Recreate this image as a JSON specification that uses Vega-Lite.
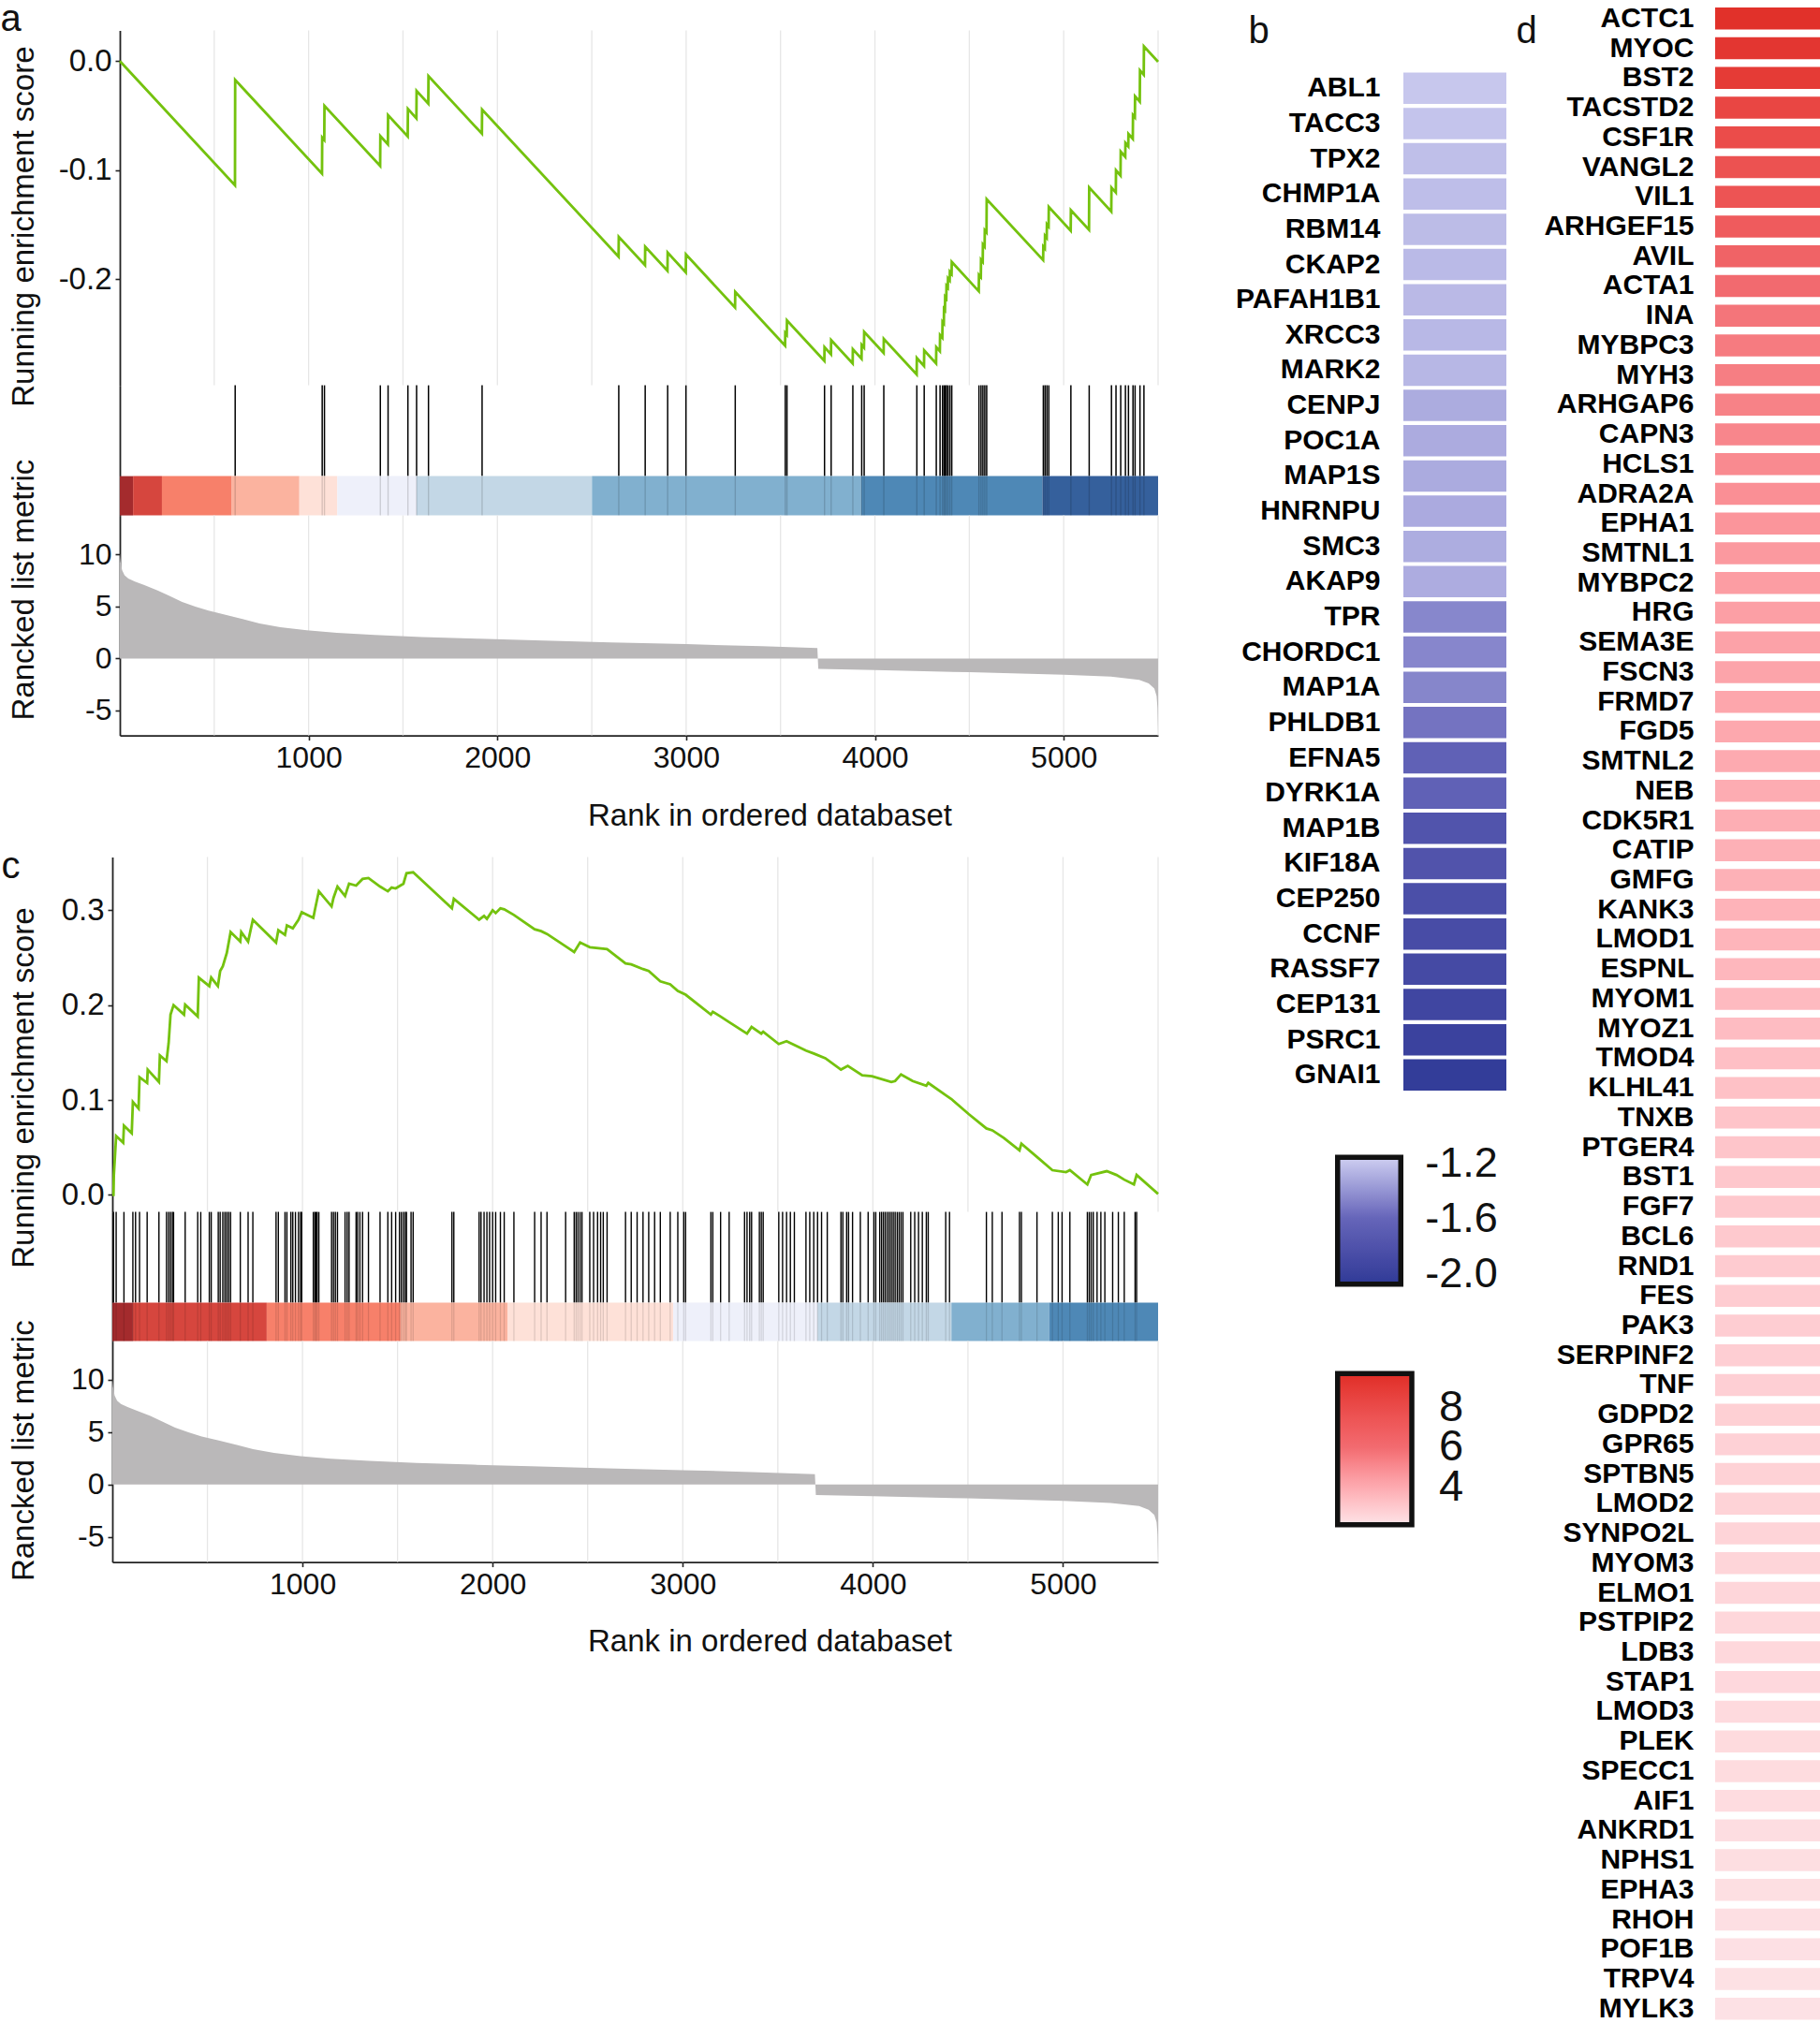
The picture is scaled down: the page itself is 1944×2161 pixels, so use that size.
{
"$schema": "https://vega.github.io/schema/vega-lite/v6.json",
"padding": 0,
"background": "white",
"config": {
  "view": {"stroke": null},
  "font": "Liberation Sans",
  "axis": {"grid": false, "labelFont": "Liberation Sans", "titleFont": "Liberation Sans", "labelColor": "#111", "titleColor": "#111", "labelFontSize": 32, "titleFontSize": 33, "titleFontWeight": "normal", "domainColor": "#222", "domainWidth": 1.8, "tickColor": "#222", "tickWidth": 1.6, "tickSize": 5, "labelPadding": 4}
},
"datasets": {
  "grid": [{"rank":500},{"rank":1000},{"rank":1500},{"rank":2000},{"rank":2500},{"rank":3000},{"rank":3500},{"rank":4000},{"rank":4500},{"rank":5000},{"rank":5500}],
  "esA": [{"rank":0,"es":0},{"rank":610,"es":-0.1137},{"rank":611,"es":-0.0172},{"rank":1071,"es":-0.103},{"rank":1072,"es":-0.07},{"rank":1083,"es":-0.0722},{"rank":1084,"es":-0.041},{"rank":1379,"es":-0.0961},{"rank":1380,"es":-0.0687},{"rank":1420,"es":-0.0763},{"rank":1421,"es":-0.0495},{"rank":1525,"es":-0.069},{"rank":1526,"es":-0.0438},{"rank":1571,"es":-0.0524},{"rank":1572,"es":-0.0272},{"rank":1634,"es":-0.0389},{"rank":1635,"es":-0.0137},{"rank":1918,"es":-0.0665},{"rank":1919,"es":-0.0444},{"rank":2642,"es":-0.1791},{"rank":2643,"es":-0.161},{"rank":2782,"es":-0.187},{"rank":2783,"es":-0.17},{"rank":2901,"es":-0.1921},{"rank":2902,"es":-0.1755},{"rank":2998,"es":-0.1935},{"rank":2999,"es":-0.1772},{"rank":3259,"es":-0.2257},{"rank":3260,"es":-0.2114},{"rank":3524,"es":-0.2607},{"rank":3525,"es":-0.249},{"rank":3533,"es":-0.2507},{"rank":3534,"es":-0.2375},{"rank":3732,"es":-0.2745},{"rank":3733,"es":-0.262},{"rank":3767,"es":-0.2685},{"rank":3768,"es":-0.2555},{"rank":3882,"es":-0.2769},{"rank":3883,"es":-0.264},{"rank":3929,"es":-0.2727},{"rank":3930,"es":-0.26},{"rank":3942,"es":-0.2624},{"rank":3943,"es":-0.248},{"rank":4046,"es":-0.2673},{"rank":4047,"es":-0.2545},{"rank":4221,"es":-0.2871},{"rank":4222,"es":-0.272},{"rank":4260,"es":-0.2793},{"rank":4261,"es":-0.265},{"rank":4324,"es":-0.2769},{"rank":4325,"es":-0.262},{"rank":4344,"es":-0.2657},{"rank":4345,"es":-0.251},{"rank":4357,"es":-0.2534},{"rank":4358,"es":-0.239},{"rank":4365,"es":-0.2405},{"rank":4366,"es":-0.227},{"rank":4371,"es":-0.2281},{"rank":4372,"es":-0.216},{"rank":4378,"es":-0.2173},{"rank":4379,"es":-0.206},{"rank":4386,"es":-0.2075},{"rank":4387,"es":-0.199},{"rank":4396,"es":-0.2009},{"rank":4397,"es":-0.193},{"rank":4406,"es":-0.1949},{"rank":4407,"es":-0.184},{"rank":4550,"es":-0.2108},{"rank":4551,"es":-0.196},{"rank":4561,"es":-0.198},{"rank":4562,"es":-0.182},{"rank":4571,"es":-0.1839},{"rank":4572,"es":-0.168},{"rank":4581,"es":-0.1699},{"rank":4582,"es":-0.155},{"rank":4591,"es":-0.1569},{"rank":4592,"es":-0.1265},{"rank":4891,"es":-0.1823},{"rank":4892,"es":-0.17},{"rank":4900,"es":-0.1717},{"rank":4901,"es":-0.16},{"rank":4910,"es":-0.1619},{"rank":4911,"es":-0.1496},{"rank":4920,"es":-0.1515},{"rank":4921,"es":-0.1336},{"rank":5037,"es":-0.1554},{"rank":5038,"es":-0.1365},{"rank":5134,"es":-0.1545},{"rank":5135,"es":-0.1159},{"rank":5252,"es":-0.1378},{"rank":5253,"es":-0.1159},{"rank":5276,"es":-0.1204},{"rank":5277,"es":-0.1001},{"rank":5301,"es":-0.1048},{"rank":5302,"es":-0.083},{"rank":5326,"es":-0.0877},{"rank":5327,"es":-0.075},{"rank":5342,"es":-0.078},{"rank":5343,"es":-0.0667},{"rank":5366,"es":-0.0712},{"rank":5367,"es":-0.0495},{"rank":5377,"es":-0.0515},{"rank":5378,"es":-0.0323},{"rank":5403,"es":-0.0371},{"rank":5404,"es":-0.0086},{"rank":5424,"es":-0.0125},{"rank":5425,"es":0.0134},{"rank":5500,"es":-0.0006}],
  "hitsA": [{"rank":611},{"rank":1072},{"rank":1084},{"rank":1380},{"rank":1421},{"rank":1526},{"rank":1572},{"rank":1635},{"rank":1919},{"rank":2643},{"rank":2783},{"rank":2902},{"rank":2999},{"rank":3260},{"rank":3525},{"rank":3534},{"rank":3733},{"rank":3768},{"rank":3883},{"rank":3930},{"rank":3943},{"rank":4047},{"rank":4222},{"rank":4261},{"rank":4325},{"rank":4345},{"rank":4358},{"rank":4366},{"rank":4372},{"rank":4379},{"rank":4387},{"rank":4397},{"rank":4407},{"rank":4551},{"rank":4562},{"rank":4572},{"rank":4582},{"rank":4592},{"rank":4892},{"rank":4901},{"rank":4911},{"rank":4921},{"rank":5038},{"rank":5135},{"rank":5253},{"rank":5277},{"rank":5302},{"rank":5327},{"rank":5343},{"rank":5367},{"rank":5378},{"rank":5404},{"rank":5425}],
  "barA": [{"start":0,"end":70,"level":1},{"start":70,"end":223,"level":2},{"start":223,"end":593,"level":3},{"start":593,"end":951,"level":4},{"start":951,"end":1152,"level":5},{"start":1152,"end":1572,"level":6},{"start":1572,"end":2501,"level":7},{"start":2501,"end":3926,"level":8},{"start":3926,"end":4887,"level":9},{"start":4887,"end":5500,"level":10}],
  "metric": [{"rank":0,"m":10.1},{"rank":4,"m":9.3},{"rank":12,"m":8.5},{"rank":25,"m":8.0},{"rank":45,"m":7.7},{"rank":80,"m":7.4},{"rank":130,"m":7.05},{"rank":200,"m":6.55},{"rank":260,"m":6.05},{"rank":330,"m":5.45},{"rank":400,"m":5.0},{"rank":470,"m":4.6},{"rank":560,"m":4.2},{"rank":650,"m":3.8},{"rank":740,"m":3.38},{"rank":850,"m":3.02},{"rank":990,"m":2.72},{"rank":1150,"m":2.47},{"rank":1350,"m":2.26},{"rank":1600,"m":2.06},{"rank":1900,"m":1.9},{"rank":2200,"m":1.75},{"rank":2600,"m":1.55},{"rank":3000,"m":1.38},{"rank":3400,"m":1.18},{"rank":3695,"m":1.0},{"rank":3700,"m":-1.0},{"rank":4000,"m":-1.12},{"rank":4500,"m":-1.32},{"rank":5000,"m":-1.55},{"rank":5250,"m":-1.75},{"rank":5400,"m":-2.05},{"rank":5450,"m":-2.4},{"rank":5480,"m":-2.9},{"rank":5492,"m":-3.6},{"rank":5497,"m":-4.8},{"rank":5500,"m":-7.0}],
  "esC": [{"rank":0,"es":0},{"rank":6,"es":0.0},{"rank":8,"es":0.021},{"rank":20,"es":0.062},{"rank":57,"es":0.055},{"rank":61,"es":0.073},{"rank":102,"es":0.065},{"rank":108,"es":0.098},{"rank":138,"es":0.091},{"rank":143,"es":0.124},{"rank":183,"es":0.118},{"rank":186,"es":0.132},{"rank":245,"es":0.119},{"rank":250,"es":0.147},{"rank":285,"es":0.141},{"rank":296,"es":0.16},{"rank":306,"es":0.19},{"rank":322,"es":0.2},{"rank":377,"es":0.19},{"rank":383,"es":0.2005},{"rank":449,"es":0.188},{"rank":455,"es":0.229},{"rank":510,"es":0.22},{"rank":520,"es":0.229},{"rank":555,"es":0.22},{"rank":567,"es":0.236},{"rank":581,"es":0.241},{"rank":602,"es":0.255},{"rank":622,"es":0.277},{"rank":673,"es":0.267},{"rank":678,"es":0.277},{"rank":714,"es":0.267},{"rank":739,"es":0.29},{"rank":861,"es":0.266},{"rank":873,"es":0.279},{"rank":908,"es":0.274},{"rank":918,"es":0.284},{"rank":949,"es":0.281},{"rank":979,"es":0.29},{"rank":996,"es":0.298},{"rank":1057,"es":0.292},{"rank":1065,"es":0.3},{"rank":1086,"es":0.32},{"rank":1153,"es":0.304},{"rank":1163,"es":0.313},{"rank":1184,"es":0.325},{"rank":1224,"es":0.315},{"rank":1235,"es":0.322},{"rank":1245,"es":0.328},{"rank":1282,"es":0.326},{"rank":1316,"es":0.333},{"rank":1347,"es":0.334},{"rank":1408,"es":0.325},{"rank":1449,"es":0.32},{"rank":1469,"es":0.324},{"rank":1490,"es":0.323},{"rank":1531,"es":0.328},{"rank":1547,"es":0.339},{"rank":1582,"es":0.34},{"rank":1786,"es":0.302},{"rank":1796,"es":0.312},{"rank":1929,"es":0.29},{"rank":1955,"es":0.294},{"rank":1970,"es":0.291},{"rank":2000,"es":0.3},{"rank":2016,"es":0.297},{"rank":2041,"es":0.302},{"rank":2061,"es":0.301},{"rank":2112,"es":0.295},{"rank":2221,"es":0.28},{"rank":2255,"es":0.278},{"rank":2286,"es":0.275},{"rank":2384,"es":0.262},{"rank":2429,"es":0.256},{"rank":2460,"es":0.266},{"rank":2511,"es":0.261},{"rank":2602,"es":0.259},{"rank":2699,"es":0.244},{"rank":2729,"es":0.243},{"rank":2791,"es":0.238},{"rank":2821,"es":0.236},{"rank":2882,"es":0.225},{"rank":2934,"es":0.222},{"rank":2974,"es":0.215},{"rank":3015,"es":0.211},{"rank":3148,"es":0.19},{"rank":3158,"es":0.193},{"rank":3199,"es":0.188},{"rank":3244,"es":0.182},{"rank":3338,"es":0.17},{"rank":3362,"es":0.177},{"rank":3413,"es":0.17},{"rank":3423,"es":0.172},{"rank":3505,"es":0.159},{"rank":3546,"es":0.162},{"rank":3587,"es":0.158},{"rank":3648,"es":0.152},{"rank":3689,"es":0.149},{"rank":3750,"es":0.144},{"rank":3832,"es":0.132},{"rank":3868,"es":0.136},{"rank":3944,"es":0.126},{"rank":3995,"es":0.125},{"rank":4097,"es":0.119},{"rank":4117,"es":0.12},{"rank":4148,"es":0.127},{"rank":4209,"es":0.12},{"rank":4281,"es":0.115},{"rank":4291,"es":0.118},{"rank":4383,"es":0.105},{"rank":4413,"es":0.101},{"rank":4505,"es":0.085},{"rank":4597,"es":0.07},{"rank":4628,"es":0.068},{"rank":4689,"es":0.06},{"rank":4771,"es":0.047},{"rank":4781,"es":0.054},{"rank":4863,"es":0.04},{"rank":4944,"es":0.026},{"rank":5016,"es":0.024},{"rank":5036,"es":0.026},{"rank":5128,"es":0.011},{"rank":5148,"es":0.021},{"rank":5230,"es":0.025},{"rank":5281,"es":0.021},{"rank":5322,"es":0.016},{"rank":5373,"es":0.011},{"rank":5387,"es":0.021},{"rank":5500,"es":0.001}],
  "hitsC": [{"rank":6},{"rank":20},{"rank":61},{"rank":108},{"rank":122},{"rank":143},{"rank":183},{"rank":245},{"rank":285},{"rank":296},{"rank":306},{"rank":316},{"rank":322},{"rank":383},{"rank":449},{"rank":465},{"rank":510},{"rank":520},{"rank":557},{"rank":567},{"rank":581},{"rank":592},{"rank":602},{"rank":612},{"rank":622},{"rank":673},{"rank":714},{"rank":739},{"rank":861},{"rank":873},{"rank":908},{"rank":918},{"rank":939},{"rank":949},{"rank":963},{"rank":979},{"rank":990},{"rank":996},{"rank":1057},{"rank":1065},{"rank":1071},{"rank":1077},{"rank":1086},{"rank":1153},{"rank":1163},{"rank":1173},{"rank":1184},{"rank":1224},{"rank":1235},{"rank":1245},{"rank":1282},{"rank":1290},{"rank":1302},{"rank":1316},{"rank":1347},{"rank":1408},{"rank":1449},{"rank":1469},{"rank":1490},{"rank":1510},{"rank":1520},{"rank":1531},{"rank":1541},{"rank":1547},{"rank":1571},{"rank":1582},{"rank":1786},{"rank":1796},{"rank":1929},{"rank":1939},{"rank":1955},{"rank":1970},{"rank":1984},{"rank":2000},{"rank":2016},{"rank":2041},{"rank":2061},{"rank":2112},{"rank":2221},{"rank":2255},{"rank":2286},{"rank":2384},{"rank":2429},{"rank":2439},{"rank":2449},{"rank":2460},{"rank":2470},{"rank":2511},{"rank":2531},{"rank":2552},{"rank":2568},{"rank":2582},{"rank":2602},{"rank":2699},{"rank":2729},{"rank":2760},{"rank":2791},{"rank":2821},{"rank":2852},{"rank":2882},{"rank":2934},{"rank":2974},{"rank":3005},{"rank":3015},{"rank":3148},{"rank":3158},{"rank":3199},{"rank":3244},{"rank":3325},{"rank":3338},{"rank":3352},{"rank":3362},{"rank":3403},{"rank":3413},{"rank":3423},{"rank":3505},{"rank":3525},{"rank":3546},{"rank":3566},{"rank":3587},{"rank":3648},{"rank":3668},{"rank":3689},{"rank":3709},{"rank":3730},{"rank":3760},{"rank":3832},{"rank":3842},{"rank":3862},{"rank":3872},{"rank":3893},{"rank":3934},{"rank":3975},{"rank":4005},{"rank":4015},{"rank":4036},{"rank":4046},{"rank":4056},{"rank":4066},{"rank":4077},{"rank":4087},{"rank":4097},{"rank":4107},{"rank":4117},{"rank":4128},{"rank":4138},{"rank":4148},{"rank":4158},{"rank":4199},{"rank":4220},{"rank":4240},{"rank":4260},{"rank":4281},{"rank":4291},{"rank":4383},{"rank":4403},{"rank":4597},{"rank":4628},{"rank":4679},{"rank":4771},{"rank":4781},{"rank":4863},{"rank":4944},{"rank":4975},{"rank":4995},{"rank":5036},{"rank":5128},{"rank":5138},{"rank":5148},{"rank":5159},{"rank":5179},{"rank":5199},{"rank":5220},{"rank":5261},{"rank":5291},{"rank":5322},{"rank":5379},{"rank":5387}],
  "barC": [{"start":0,"end":108,"level":1},{"start":108,"end":812,"level":2},{"start":812,"end":1516,"level":3},{"start":1516,"end":2078,"level":4},{"start":2078,"end":2950,"level":5},{"start":2950,"end":3709,"level":6},{"start":3709,"end":4413,"level":7},{"start":4413,"end":4928,"level":8},{"start":4928,"end":5500,"level":9}],
  "geneB": [{"gene":"ABL1","value":-1.189},{"gene":"TACC3","value":-1.201},{"gene":"TPX2","value":-1.222},{"gene":"CHMP1A","value":-1.226},{"gene":"RBM14","value":-1.235},{"gene":"CKAP2","value":-1.243},{"gene":"PAFAH1B1","value":-1.245},{"gene":"XRCC3","value":-1.251},{"gene":"MARK2","value":-1.255},{"gene":"CENPJ","value":-1.301},{"gene":"POC1A","value":-1.302},{"gene":"MAP1S","value":-1.305},{"gene":"HNRNPU","value":-1.306},{"gene":"SMC3","value":-1.297},{"gene":"AKAP9","value":-1.298},{"gene":"TPR","value":-1.455},{"gene":"CHORDC1","value":-1.456},{"gene":"MAP1A","value":-1.459},{"gene":"PHLDB1","value":-1.538},{"gene":"EFNA5","value":-1.645},{"gene":"DYRK1A","value":-1.647},{"gene":"MAP1B","value":-1.787},{"gene":"KIF18A","value":-1.789},{"gene":"CEP250","value":-1.84},{"gene":"CCNF","value":-1.867},{"gene":"RASSF7","value":-1.893},{"gene":"CEP131","value":-1.938},{"gene":"PSRC1","value":-1.982},{"gene":"GNAI1","value":-2.044}],
  "geneD": [{"gene":"ACTC1","value":9.53},{"gene":"MYOC","value":9.23},{"gene":"BST2","value":8.99},{"gene":"TACSTD2","value":8.33},{"gene":"CSF1R","value":7.97},{"gene":"VANGL2","value":7.62},{"gene":"VIL1","value":7.5},{"gene":"ARHGEF15","value":7.02},{"gene":"AVIL","value":6.54},{"gene":"ACTA1","value":6.06},{"gene":"INA","value":5.71},{"gene":"MYBPC3","value":5.52},{"gene":"MYH3","value":5.42},{"gene":"ARHGAP6","value":5.29},{"gene":"CAPN3","value":5.16},{"gene":"HCLS1","value":5.03},{"gene":"ADRA2A","value":4.87},{"gene":"EPHA1","value":4.68},{"gene":"SMTNL1","value":4.55},{"gene":"MYBPC2","value":4.42},{"gene":"HRG","value":4.36},{"gene":"SEMA3E","value":4.26},{"gene":"FSCN3","value":4.2},{"gene":"FRMD7","value":4.13},{"gene":"FGD5","value":4.07},{"gene":"SMTNL2","value":4.0},{"gene":"NEB","value":3.94},{"gene":"CDK5R1","value":3.87},{"gene":"CATIP","value":3.81},{"gene":"GMFG","value":3.78},{"gene":"KANK3","value":3.71},{"gene":"LMOD1","value":3.65},{"gene":"ESPNL","value":3.58},{"gene":"MYOM1","value":3.49},{"gene":"MYOZ1","value":3.42},{"gene":"TMOD4","value":3.32},{"gene":"KLHL41","value":3.26},{"gene":"TNXB","value":3.16},{"gene":"PTGER4","value":3.13},{"gene":"BST1","value":3.07},{"gene":"FGF7","value":3.03},{"gene":"BCL6","value":3.0},{"gene":"RND1","value":2.94},{"gene":"FES","value":2.91},{"gene":"PAK3","value":2.87},{"gene":"SERPINF2","value":2.84},{"gene":"TNF","value":2.81},{"gene":"GDPD2","value":2.78},{"gene":"GPR65","value":2.74},{"gene":"SPTBN5","value":2.71},{"gene":"LMOD2","value":2.68},{"gene":"SYNPO2L","value":2.65},{"gene":"MYOM3","value":2.62},{"gene":"ELMO1","value":2.58},{"gene":"PSTPIP2","value":2.55},{"gene":"LDB3","value":2.52},{"gene":"STAP1","value":2.49},{"gene":"LMOD3","value":2.45},{"gene":"PLEK","value":2.42},{"gene":"SPECC1","value":2.39},{"gene":"AIF1","value":2.36},{"gene":"ANKRD1","value":2.33},{"gene":"NPHS1","value":2.32},{"gene":"EPHA3","value":2.29},{"gene":"RHOH","value":2.26},{"gene":"POF1B","value":2.23},{"gene":"TRPV4","value":2.22},{"gene":"MYLK3","value":2.2}]
},
"spacing": 223,
"bounds": "flush",
"resolve": {"scale": {"color": "independent"}, "legend": {"color": "independent"}},
"hconcat": [
 {
  "width": 1117, "height": 1664.6,
  "resolve": {"scale": {"x": "independent", "y": "independent"}, "axis": {"x": "independent", "y": "independent"}},
  "layer": [
   {
    "layer": [
     {
      "data": {"name": "grid"},
      "mark": {"type": "rule", "color": "#e6e6e6", "strokeWidth": 1.3},
      "encoding": {
       "x": {"field": "rank", "type": "quantitative", "title": "rank", "scale": {"domain": [0, 5500], "range": [8, 1117], "nice": false, "zero": false}, "axis": null},
       "y": {"datum": 0.028, "type": "quantitative", "title": "Running enrichment score", "scale": {"domain": [-0.297, 0.028], "range": [407.6, 28.6], "nice": false, "zero": false}, "axis": {"orient": "left", "offset": -8, "values": [-0.2, -0.1, 0], "labelExpr": "datum.value < 0 ? '-' + format(-datum.value, '.1f') : format(datum.value, '.1f')", "labelFontSize": 33, "titleX": -103, "titleY": 237.6, "titleAngle": -90, "titleAlign": "center", "titleBaseline": "middle"}},
       "y2": {"datum": -0.297}
      }
     },
     {
      "data": {"name": "esA"},
      "mark": {"type": "line", "color": "#74c20e", "strokeWidth": 2.8},
      "encoding": {
       "x": {"field": "rank", "type": "quantitative", "title": "rank"},
       "y": {"field": "es", "type": "quantitative", "title": "Running enrichment score"}
      }
     }
    ]
   },
   {
    "data": {"name": "hitsA"},
    "mark": {"type": "rule", "color": "#000", "strokeWidth": 1.5},
    "encoding": {
     "x": {"field": "rank", "type": "quantitative", "scale": {"domain": [0, 5500], "range": [8, 1117], "nice": false, "zero": false}, "axis": null},
     "y": {"datum": 0, "type": "quantitative", "scale": {"domain": [0, 1], "range": [504.6, 407.6]}, "axis": {"orient": "left", "offset": -8, "labels": false, "ticks": false, "title": "a", "titleX": -128, "titleY": 28.6, "titleAngle": 0, "titleAlign": "left", "titleBaseline": "alphabetic", "titleFontSize": 40}},
     "y2": {"datum": 1}
    }
   },
   {
    "layer": [
     {
      "data": {"name": "barA"},
      "mark": {"type": "rect"},
      "encoding": {
       "x": {"field": "start", "type": "quantitative", "title": "rank", "scale": {"domain": [0, 5500], "range": [8, 1117], "nice": false, "zero": false}, "axis": null},
       "x2": {"field": "end"},
       "y": {"datum": 0, "type": "quantitative", "title": "barA", "scale": {"domain": [0, 1], "range": [546.6, 504.6]}, "axis": {"orient": "left", "offset": -8, "labels": false, "ticks": false, "title": null}},
       "y2": {"datum": 1},
       "color": {"field": "level", "type": "ordinal", "scale": {"domain": [1,2,3,4,5,6,7,8,9,10], "range": ["#a42b2d", "#d6463e", "#f7806a", "#fbb39f", "#fee1d8", "#eef0fa", "#c3d7e6", "#81b0cf", "#4e88b6", "#35609c"]}, "legend": null}
      }
     },
     {
      "data": {"name": "hitsA"},
      "mark": {"type": "rule", "color": "#000", "opacity": 0.15, "strokeWidth": 1.4},
      "encoding": {
       "x": {"field": "rank", "type": "quantitative", "title": "rank"},
       "y": {"datum": 0, "type": "quantitative", "title": "barA"},
       "y2": {"datum": 1}
      }
     }
    ]
   },
   {
    "layer": [
     {
      "data": {"name": "grid"},
      "mark": {"type": "rule", "color": "#e6e6e6", "strokeWidth": 1.3},
      "encoding": {
       "x": {"field": "rank", "type": "quantitative", "title": "Rank in ordered databaset", "scale": {"domain": [0, 5500], "range": [8, 1117], "nice": false, "zero": false}, "axis": {"orient": "bottom", "offset": -883, "values": [1000, 2000, 3000, 4000, 5000], "labelExpr": "format(datum.value, 'd')", "labelFlush": false, "labelOverlap": false, "titleX": 702, "titleY": 86, "titleAlign": "center", "titleBaseline": "middle"}},
       "y": {"datum": 13.76, "type": "quantitative", "title": "Rancked list metric", "scale": {"domain": [-7.4, 13.76], "range": [781.6, 546.6], "nice": false, "zero": false}, "axis": {"orient": "left", "offset": -8, "values": [-5, 0, 5, 10], "labelExpr": "datum.value < 0 ? '-' + format(-datum.value, 'd') : format(datum.value, 'd')", "titleX": -103, "titleY": 625.6, "titleAngle": -90, "titleAlign": "center", "titleBaseline": "middle"}},
       "y2": {"datum": -7.4}
      }
     },
     {
      "data": {"name": "metric"},
      "mark": {"type": "area", "color": "#bab8b9"},
      "encoding": {
       "x": {"field": "rank", "type": "quantitative", "title": "Rank in ordered databaset"},
       "y": {"field": "m", "type": "quantitative", "title": "Rancked list metric"},
       "y2": {"datum": 0}
      }
     }
    ]
   },
   {
    "layer": [
     {
      "data": {"name": "grid"},
      "mark": {"type": "rule", "color": "#e6e6e6", "strokeWidth": 1.3},
      "encoding": {
       "x": {"field": "rank", "type": "quantitative", "title": "rank", "scale": {"domain": [0, 5500], "nice": false, "zero": false}, "axis": null},
       "y": {"datum": 0.356, "type": "quantitative", "title": "Running enrichment score", "scale": {"domain": [-0.018, 0.356], "range": [1290.6, 911.6], "nice": false, "zero": false}, "axis": {"orient": "left", "values": [0, 0.1, 0.2, 0.3], "labelExpr": "format(datum.value, '.1f')", "labelFontSize": 33, "titleX": -95, "titleY": 1157.6, "titleAngle": -90, "titleAlign": "center", "titleBaseline": "middle"}},
       "y2": {"datum": -0.018}
      }
     },
     {
      "data": {"name": "esC"},
      "mark": {"type": "line", "color": "#74c20e", "strokeWidth": 2.8},
      "encoding": {
       "x": {"field": "rank", "type": "quantitative", "title": "rank"},
       "y": {"field": "es", "type": "quantitative", "title": "Running enrichment score"}
      }
     }
    ]
   },
   {
    "data": {"name": "hitsC"},
    "mark": {"type": "rule", "color": "#000", "strokeWidth": 1.4},
    "encoding": {
     "x": {"field": "rank", "type": "quantitative", "scale": {"domain": [0, 5500], "nice": false, "zero": false}, "axis": null},
     "y": {"datum": 0, "type": "quantitative", "scale": {"domain": [0, 1], "range": [1387.6, 1290.6]}, "axis": {"orient": "left", "labels": false, "ticks": false, "title": "c", "titleX": -119, "titleY": 933.6, "titleAngle": 0, "titleAlign": "left", "titleBaseline": "alphabetic", "titleFontSize": 40}},
     "y2": {"datum": 1}
    }
   },
   {
    "layer": [
     {
      "data": {"name": "barC"},
      "mark": {"type": "rect"},
      "encoding": {
       "x": {"field": "start", "type": "quantitative", "title": "rank", "scale": {"domain": [0, 5500], "nice": false, "zero": false}, "axis": null},
       "x2": {"field": "end"},
       "y": {"datum": 0, "type": "quantitative", "title": "barC", "scale": {"domain": [0, 1], "range": [1428.6, 1387.6]}, "axis": {"orient": "left", "labels": false, "ticks": false, "title": null}},
       "y2": {"datum": 1},
       "color": {"field": "level", "type": "ordinal", "scale": {"domain": [1,2,3,4,5,6,7,8,9,10], "range": ["#a42b2d", "#d6463e", "#f7806a", "#fbb39f", "#fee1d8", "#eef0fa", "#c3d7e6", "#81b0cf", "#4e88b6", "#35609c"]}, "legend": null}
      }
     },
     {
      "data": {"name": "hitsC"},
      "mark": {"type": "rule", "color": "#000", "opacity": 0.12, "strokeWidth": 1.3},
      "encoding": {
       "x": {"field": "rank", "type": "quantitative", "title": "rank"},
       "y": {"datum": 0, "type": "quantitative", "title": "barC"},
       "y2": {"datum": 1}
      }
     }
    ]
   },
   {
    "layer": [
     {
      "data": {"name": "grid"},
      "mark": {"type": "rule", "color": "#e6e6e6", "strokeWidth": 1.3},
      "encoding": {
       "x": {"field": "rank", "type": "quantitative", "title": "Rank in ordered databaset", "scale": {"domain": [0, 5500], "nice": false, "zero": false}, "axis": {"orient": "bottom", "values": [1000, 2000, 3000, 4000, 5000], "labelExpr": "format(datum.value, 'd')", "labelFlush": false, "labelOverlap": false, "titleX": 702, "titleY": 85, "titleAlign": "center", "titleBaseline": "middle"}},
       "y": {"datum": 13.7, "type": "quantitative", "title": "Rancked list metric", "scale": {"domain": [-7.4, 13.7], "range": [1664.6, 1428.6], "nice": false, "zero": false}, "axis": {"orient": "left", "values": [-5, 0, 5, 10], "labelExpr": "datum.value < 0 ? '-' + format(-datum.value, 'd') : format(datum.value, 'd')", "titleX": -95, "titleY": 1545.2, "titleAngle": -90, "titleAlign": "center", "titleBaseline": "middle"}},
       "y2": {"datum": -7.4}
      }
     },
     {
      "data": {"name": "metric"},
      "mark": {"type": "area", "color": "#bab8b9"},
      "encoding": {
       "x": {"field": "rank", "type": "quantitative", "title": "Rank in ordered databaset"},
       "y": {"field": "m", "type": "quantitative", "title": "Rancked list metric"},
       "y2": {"datum": 0}
      }
     }
    ]
   }
  ]
 },
 {
  "width": 149, "height": 2157.6,
  "data": {"name": "geneB"},
  "mark": {"type": "rect"},
  "encoding": {
   "x": {"datum": 0, "type": "quantitative", "scale": {"domain": [0, 1], "range": [39, 149]}, "axis": null},
   "x2": {"datum": 1},
   "y": {"field": "gene", "type": "nominal", "sort": null, "scale": {"range": [71.5, 1163.1], "paddingInner": 0.11, "paddingOuter": 0.055}, "axis": {"orient": "left", "offset": -39, "ticks": false, "domain": false, "labelFontSize": 30, "labelFontWeight": "bold", "labelPadding": 25, "labelColor": "#000", "title": "b", "titleX": -166, "titleY": 41.6, "titleAngle": 0, "titleAlign": "left", "titleBaseline": "alphabetic", "titleFontSize": 40}},
   "color": {"field": "value", "type": "quantitative", "scale": {"domain": [-2.076, -1.6, -1.158], "range": ["#2f3a97", "#6565b9", "#cfcff1"]}, "legend": {"orient": "none", "legendX": -31.25, "legendY": 1232.35, "direction": "vertical", "title": null, "gradientLength": 135.5, "gradientThickness": 67.5, "gradientStrokeColor": "#111", "gradientStrokeWidth": 5.5, "values": [-2.0, -1.6, -1.2], "labelExpr": "'-' + format(-datum.value, '.1f')", "labelFontSize": 45, "labelFont": "Liberation Sans", "labelColor": "#111", "labelOffset": 26, "labelOverlap": false, "padding": 0}}
  }
 },
 {
  "width": 112, "height": 2157.6,
  "data": {"name": "geneD"},
  "mark": {"type": "rect"},
  "encoding": {
   "y": {"field": "gene", "type": "nominal", "sort": null, "scale": {"paddingInner": 0.26, "paddingOuter": 0.13}, "axis": {"orient": "left", "ticks": false, "domain": false, "labelFontSize": 30, "labelFontWeight": "bold", "labelPadding": 23, "labelColor": "#000", "title": "d", "titleX": -213, "titleY": 41.6, "titleAngle": 0, "titleAlign": "left", "titleBaseline": "alphabetic", "titleFontSize": 40}},
   "color": {"field": "value", "type": "quantitative", "scale": {"domain": [2.11, 6, 9.71], "range": ["#fde4e7", "#f26b70", "#e02d26"]}, "legend": {"orient": "none", "legendX": -403.25, "legendY": 1463.35, "direction": "vertical", "title": null, "gradientLength": 161.5, "gradientThickness": 79.25, "gradientStrokeColor": "#111", "gradientStrokeWidth": 5.5, "values": [4, 6, 8], "labelExpr": "format(datum.value, 'd')", "labelFontSize": 47, "labelFont": "Liberation Sans", "labelColor": "#111", "labelOffset": 29, "labelOverlap": false, "padding": 0}}
  }
 }
]
}
